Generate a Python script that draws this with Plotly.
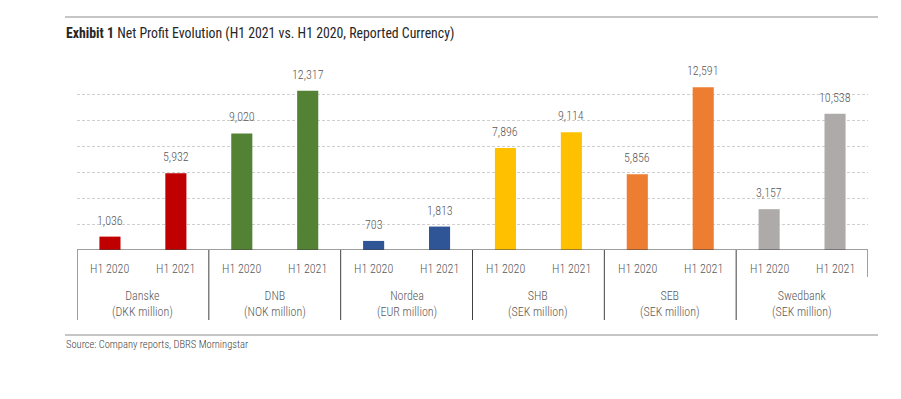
import plotly.graph_objects as go

banks = ["Danske", "DNB", "Nordea", "SHB", "SEB", "Swedbank"]
units = ["(DKK million)", "(NOK million)", "(EUR million)", "(SEK million)", "(SEK million)", "(SEK million)"]
periods = ["H1 2020", "H1 2021"]
h1_2020 = [1036, 9020, 703, 7896, 5856, 3157]
h1_2021 = [5932, 12317, 1813, 9114, 12591, 10538]
colors = ["#C00000", "#548235", "#2F5597", "#FFC000", "#ED7D31", "#AEAAAA"]

FONT = "Roboto Condensed, Liberation Sans Narrow, sans-serif"
TXT = "#595959"

OFF = 8  # page body margin
W, H = 901 - OFF, 399 - OFF
# target screen pixels
L, R, T, B = 77, 868, 69, 250
ph = B - T
pw = R - L

def py(y):  # screen pixel y -> paper y
    return (B - y) / ph

def px(x):
    return (x - L) / pw

xs, ys, cs, labels = [], [], [], []
for i in range(len(banks)):
    for j, vals in enumerate([h1_2020, h1_2021]):
        xs.append(2 * i + j)
        ys.append(vals[i])
        cs.append(colors[i])
        labels.append(periods[j])

fig = go.Figure(go.Bar(x=xs, y=ys, marker=dict(color=cs, line=dict(width=0)), width=0.32, hoverinfo="skip"))

LIGHT = dict(size=12, color=TXT, family=FONT, weight=300)
ann = []
shapes = []
for x, y, lab in zip(xs, ys, labels):
    ann.append(dict(x=x, y=y, xref="x", yref="y", text=f"{y:,}", showarrow=False,
                    yanchor="middle", yshift=16, font=LIGHT))
    ann.append(dict(x=x, y=py(269), xref="x", yref="paper", text=lab, showarrow=False,
                    yanchor="middle", font=LIGHT))
for i, (b, u) in enumerate(zip(banks, units)):
    ann.append(dict(x=2 * i + 0.5, y=py(304), xref="x", yref="paper", text=f"{b}<br>{u}",
                    showarrow=False, yanchor="middle", align="center", font=LIGHT))
    shapes.append(dict(type="line", xref="x", yref="paper", x0=2 * i - 0.5, x1=2 * i - 0.5,
                       y0=0, y1=py(320), line=dict(color="#404040", width=1)))
shapes.append(dict(type="line", xref="x", yref="paper", x0=len(xs) - 0.5, x1=len(xs) - 0.5,
                   y0=0, y1=py(277), line=dict(color="#404040", width=1)))
shapes.append(dict(type="line", xref="x", yref="y", x0=-0.5, x1=len(xs) - 0.5, y0=0, y1=0,
                   line=dict(color="#404040", width=1.2)))
# top rule and source rule
shapes.append(dict(type="line", xref="paper", yref="paper", x0=px(65), x1=px(878),
                   y0=py(17), y1=py(17), line=dict(color="#8c8c8c", width=1)))
shapes.append(dict(type="line", xref="paper", yref="paper", x0=px(65), x1=px(878),
                   y0=py(335), y1=py(335), line=dict(color="#8c8c8c", width=1)))

ann.append(dict(x=px(64), y=py(33), xref="paper", yref="paper", xanchor="left", yanchor="middle",
                showarrow=False,
                text="<b>Exhibit 1</b> Net Profit Evolution (H1 2021 vs. H1 2020, Reported Currency)",
                font=dict(size=13.8, color="#262626", family=FONT)))
ann.append(dict(x=px(64), y=py(344), xref="paper", yref="paper", xanchor="left", yanchor="middle",
                showarrow=False, text="Source: Company reports, DBRS Morningstar",
                font=dict(size=10.5, color="#404040", family=FONT, weight=300)))

fig.update_layout(
    width=W, height=H, autosize=False,
    margin=dict(l=L - OFF, r=W - (R - OFF), t=T - OFF, b=H - (B - OFF), pad=0),
    paper_bgcolor="white", plot_bgcolor="white",
    showlegend=False,
    xaxis=dict(range=[-0.5, len(xs) - 0.5], showticklabels=False, showgrid=False,
               zeroline=False, ticks="", fixedrange=True),
    yaxis=dict(range=[0, 14000], dtick=2000, showticklabels=False, showgrid=True,
               gridcolor="#cfcfcf", griddash="3px,2px", gridwidth=1, zeroline=False, ticks=""),
    annotations=ann, shapes=shapes,
    font=dict(family=FONT, color=TXT),
)
fig.write_html("out.html")
